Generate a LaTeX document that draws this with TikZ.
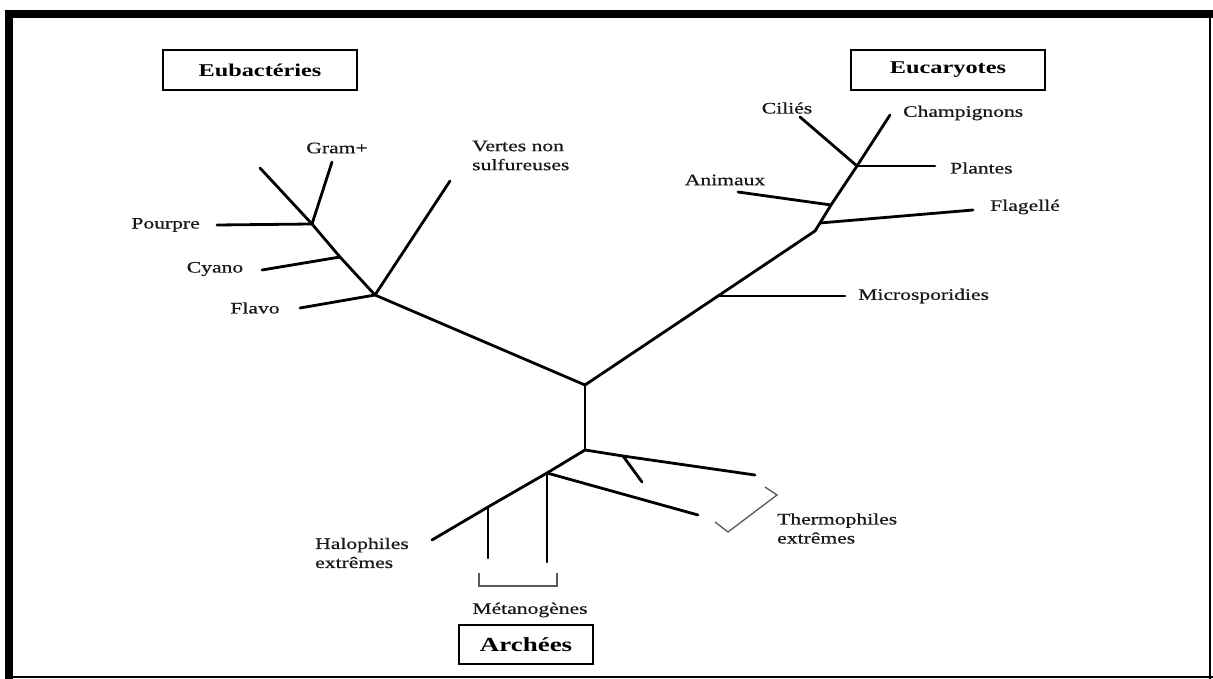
\documentclass[tikz,border=0pt]{standalone}
\usepackage{fontspec}
\setmainfont{Liberation Serif}[FakeStretch=1.35]
\newfontfamily\labfont{Liberation Serif}[FakeStretch=1.35,FakeBold=0.6]
\begin{document}
\begin{tikzpicture}[x=1pt,y=-1pt,
  br/.style={line width=2.8pt, line cap=round, line join=round},
  brk/.style={line width=1.3pt, draw=black!65, line join=miter},
  lab/.style={font=\labfont\fontsize{16}{19}\selectfont, inner sep=0pt, text=black!90},
  grp/.style={draw, line width=2pt, minimum width=194pt, minimum height=40pt,
              font=\fontsize{18}{20}\selectfont\bfseries, inner sep=0pt}]
\useasboundingbox (0,0) rectangle (1213,679);
\fill[white] (0,0) rectangle (1213,679);
% frame
\fill (5,10) rectangle (1213,18);
\fill (5,10) rectangle (13,679);
\draw[line width=2.5pt] (1210,18) -- (1210,679);
\draw[line width=2.5pt] (13,677) -- (1213,677);

% group boxes
\node[grp] (eub) at (260,70) {Eubactéries};
\node[grp] (euc) at (948,70) {Eucaryotes};
\node[grp, minimum width=134pt, minimum height=39pt,
      font=\fontsize{20}{22}\selectfont\bfseries] (arc) at (526,644.5) {Archées};

% coordinates of the tree
\coordinate (R) at (585,385);
\coordinate (A) at (585,450);
% eubacteria
\coordinate (J1) at (375,295);
\coordinate (Vt) at (450,181);
\coordinate (Cy) at (340,257);
\coordinate (Po) at (312,224);
\coordinate (Top) at (260,168);
\coordinate (Gr) at (332,162);
\coordinate (PoE) at (217,225);
\coordinate (CyE) at (262,270);
\coordinate (FlE) at (300,308);
% eucaryotes
\coordinate (M) at (718,296);
\coordinate (F) at (815,231);
\coordinate (Fl) at (820,223);
\coordinate (An) at (831,205);
\coordinate (P) at (857,166);
\coordinate (Ch) at (890,115);
\coordinate (FlagE) at (973,210);
\coordinate (AnE) at (738,192);
\coordinate (PlE) at (935,166);
\coordinate (CiE) at (800,117);
\coordinate (MiE) at (845,296);
% archaea
\coordinate (H1) at (547,473);
\coordinate (H2) at (488,507);
\coordinate (HE) at (432,540);
\coordinate (V1) at (488,558);
\coordinate (V2) at (547,562);
\coordinate (TL) at (698,515);
\coordinate (T1) at (623,456);
\coordinate (TU) at (755,475);
\coordinate (TS) at (642,482);

% branches
\draw[br] (R) -- (J1);
\draw[br] (J1) -- (Vt);
\draw[br] (J1) -- (Cy) -- (Po) -- (Top);
\draw[br] (Po) -- (Gr);
\draw[br] (Po) -- (PoE);
\draw[br] (Cy) -- (CyE);
\draw[br] (J1) -- (FlE);

\draw[br] (R) -- (M) -- (F) -- (Fl) -- (An) -- (P) -- (Ch);
\draw[br] (M) -- (MiE);
\draw[br] (Fl) -- (FlagE);
\draw[br] (An) -- (AnE);
\draw[br] (P) -- (PlE);
\draw[br] (P) -- (CiE);

\draw[br] (R) -- (A);
\draw[br] (A) -- (H1) -- (H2) -- (HE);
\draw[br] (H2) -- (V1);
\draw[br] (H1) -- (V2);
\draw[br] (H1) -- (TL);
\draw[br] (A) -- (T1) -- (TU);
\draw[br] (T1) -- (TS);

% brackets
\coordinate (mb1) at (479,573);
\coordinate (mb2) at (479,586);
\coordinate (mb3) at (557,586);
\coordinate (mb4) at (557,573);
\draw[brk] (mb1) -- (mb2) -- (mb3) -- (mb4);
\coordinate (tb1) at (765,487);
\coordinate (tb2) at (777,495);
\coordinate (tb3) at (728,532);
\coordinate (tb4) at (715,522);
\draw[brk] (tb1) -- (tb2) -- (tb3) -- (tb4);

% labels
\node[lab] (gram) at (337,148) {Gram+};
\node[lab, anchor=west, align=left] (vertes) at (472,155.5) {Vertes non\\sulfureuses};
\node[lab, anchor=east] (pourpre) at (200,225) {Pourpre};
\node[lab] (cyano) at (215,269) {Cyano};
\node[lab] (flavo) at (255,308) {Flavo};
\node[lab] (cilies) at (787,108) {Ciliés};
\node[lab, anchor=west] (champ) at (903,113) {Champignons};
\node[lab, anchor=west] (plantes) at (950,168) {Plantes};
\node[lab] (animaux) at (725,180) {Animaux};
\node[lab, anchor=west] (flag) at (990,207) {Flagellé};
\node[lab, anchor=west] (micro) at (858,296) {Microsporidies};
\node[lab, anchor=west, align=left] (halo) at (315,553) {Halophiles\\extrêmes};
\node[lab] (metan) at (530,610) {Métanogènes};
\node[lab, anchor=west, align=left] (thermo) at (777,528.5) {Thermophiles\\extrêmes};
\end{tikzpicture}
\end{document}
